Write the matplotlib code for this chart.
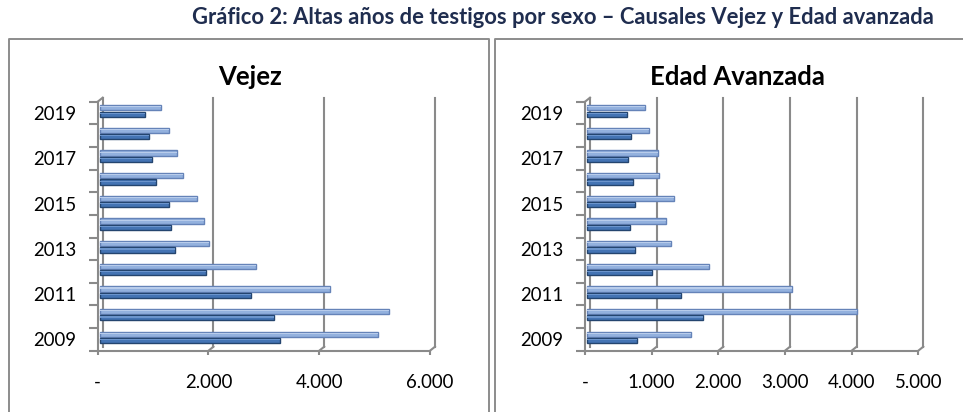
import matplotlib
matplotlib.use("Agg")
import matplotlib.pyplot as plt
import matplotlib.transforms as mtransforms
from matplotlib.lines import Line2D

# ---- data ----
years = [2009, 2010, 2011, 2012, 2013, 2014, 2015, 2016, 2017, 2018, 2019]
year_labels = ["2009", "2011", "2013", "2015", "2017", "2019"]

vejez_light = [5026, 5224, 4153, 2811, 1974, 1878, 1746, 1505, 1384, 1252, 1095]
vejez_dark = [3250, 3148, 2720, 1908, 1354, 1282, 1246, 1005, 945, 885, 812]
vejez_xticks = [0, 2000, 4000, 6000]
vejez_xlabels = ["-", "2.000", "4.000", "6.000"]

edad_light = [1550, 4045, 3075, 1825, 1250, 1185, 1295, 1075, 1060, 920, 860]
edad_dark = [750, 1735, 1410, 965, 710, 635, 710, 685, 615, 660, 600]
edad_xticks = [0, 1000, 2000, 3000, 4000, 5000]
edad_xlabels = ["-", "1.000", "2.000", "3.000", "4.000", "5.000"]

main_title = "Gráfico 2: Altas años de testigos por sexo – Causales Vejez y Edad avanzada"
titles = ["Vejez", "Edad Avanzada"]

# ---- style ----
W, H = 963, 412
DPI = 100
FONT = ["Lato", "DejaVu Sans"]
GRID = "#8a8a8a"
LIGHT_FACE = "#93b1de"
LIGHT_EDGE = "#6583b8"
LIGHT_HI = "#b8cceb"
DARK_FACE = "#4474b4"
DARK_EDGE = "#24456f"
DARK_HI = "#6b94cc"

plt.rcParams["font.family"] = FONT
fig = plt.figure(figsize=(W / DPI, H / DPI), dpi=DPI)


def px_rect(x0, y0, x1, y1):
    """pixel box (top-left origin) -> figure fraction [l, b, w, h]"""
    return [x0 / W, 1 - y1 / H, (x1 - x0) / W, (y1 - y0) / H]


def draw_chart(rect, light, dark, xticks, xlabels, title, title_x):
    ax = fig.add_axes(rect)
    n = len(years)
    pos = list(range(n))
    ax.set_xlim(xticks[0], xticks[-1])
    ax.set_ylim(-0.5, n - 0.5)

    back = mtransforms.ScaledTranslation(5 / DPI, 4 / DPI, fig.dpi_scale_trans)
    barshift = mtransforms.ScaledTranslation(2.3 / DPI, 0, fig.dpi_scale_trans)
    btrans = mtransforms.blended_transform_factory(ax.transData, ax.transAxes)

    # back-wall gridlines with small perspective diagonals
    for t in xticks:
        ax.add_line(Line2D([t, t], [0, 1], transform=btrans + back,
                           color=GRID, lw=1.5, clip_on=False, zorder=1))
    for t in xticks[1:]:
        p_front = btrans.transform((t, 0))
        p_back = (btrans + back).transform((t, 0))
        fig.add_artist(Line2D([p_front[0], p_back[0]], [p_front[1], p_back[1]],
                              transform=None, color=GRID, lw=1.5))
    p_front = btrans.transform((0, 1))
    p_back = (btrans + back).transform((0, 1))
    fig.add_artist(Line2D([p_front[0], p_back[0]], [p_front[1], p_back[1]],
                          transform=None, color=GRID, lw=1.5))

    # bars (light = upper, dark = lower)
    lp = [p + 0.23 for p in pos]
    dp = [p - 0.05 for p in pos]
    for yy, vals, face, edge, hi in [(lp, light, LIGHT_FACE, LIGHT_EDGE, LIGHT_HI),
                                     (dp, dark, DARK_FACE, DARK_EDGE, DARK_HI)]:
        bars = ax.barh(yy, vals, height=0.23, color=face, edgecolor=edge,
                       linewidth=1.0, zorder=3)
        for b in bars:
            b.set_transform(ax.transData + barshift)
        his = ax.barh([y + 0.04 for y in yy], vals, height=0.05, color=hi,
                      linewidth=0, zorder=4)
        for b in his:
            b.set_transform(ax.transData + barshift)

    # axes lines (front plane)
    for s in ["top", "right"]:
        ax.spines[s].set_visible(False)
    for s in ["left", "bottom"]:
        ax.spines[s].set_color(GRID)
        ax.spines[s].set_linewidth(1.5)
        ax.spines[s].set_zorder(2)

    ax.set_xticks(xticks)
    ax.set_xticklabels(xlabels)
    ax.tick_params(axis="x", length=3, width=1.5, color=GRID, pad=13.5,
                   labelsize=13.4, labelcolor="#000000")
    ax.set_yticks([pos[i] for i in range(0, n, 2)])
    ax.set_yticklabels(year_labels)
    ax.set_yticks([p - 0.5 for p in pos] + [n - 0.5], minor=True)
    ax.tick_params(axis="y", which="major", length=0, pad=15.5,
                   labelsize=13.4, labelcolor="#000000")
    ax.tick_params(axis="y", which="minor", length=6.5, width=1.5, color=GRID)
    ax.set_facecolor("none")

    fig.text(title_x / W, 1 - 77 / H, title, ha="center", va="center",
             fontsize=18.5, fontweight="bold", color="#000000")
    return ax


# chart frames
fig.add_artist(Line2D([9 / W, 9 / W, 489 / W, 489 / W], [0, 1 - 39 / H, 1 - 39 / H, 0],
                      color="#8c8c8c", lw=1.4))
fig.add_artist(Line2D([495 / W, 495 / W, 1.01], [0, 1 - 39 / H, 1 - 39 / H],
                      color="#8c8c8c", lw=1.4))

draw_chart(px_rect(97.7, 101.7, 430.0, 350.7), vejez_light, vejez_dark,
           vejez_xticks, vejez_xlabels, titles[0], 250)
draw_chart(px_rect(585.0, 101.7, 918.3, 350.7), edad_light, edad_dark,
           edad_xticks, edad_xlabels, titles[1], 737)

fig.text(562.5 / W, 1 - 18 / H, main_title, ha="center", va="center",
         fontsize=15.8, fontweight="bold", color="#1f2d4f")

fig.savefig("out.png", dpi=DPI)
